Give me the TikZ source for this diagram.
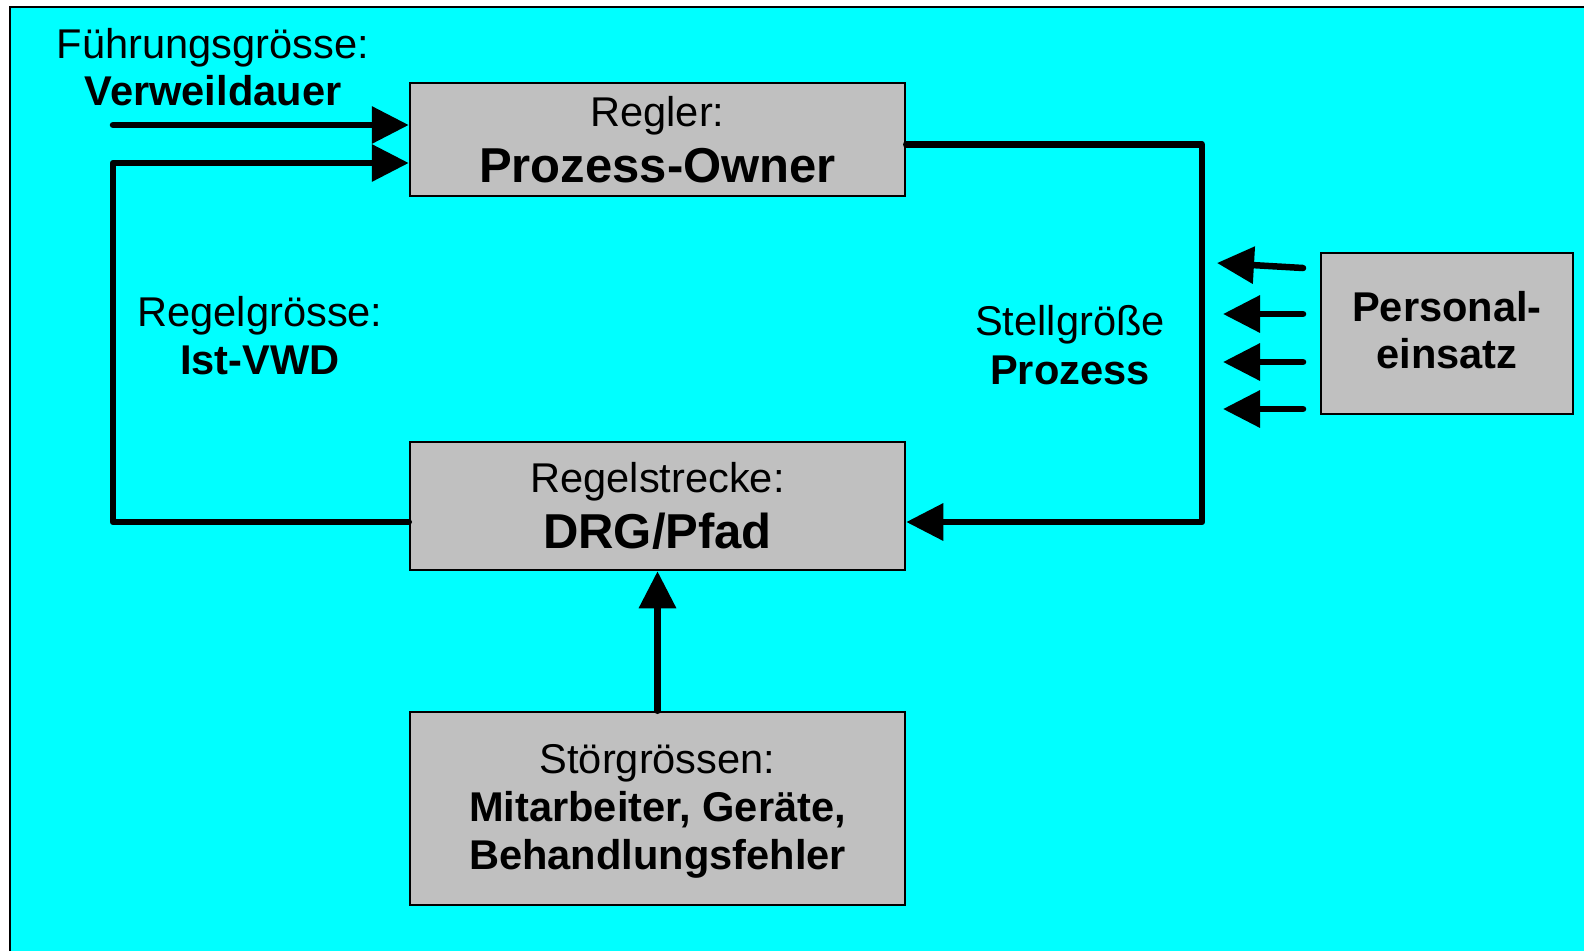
\documentclass[tikz,border=0pt]{standalone}
\usepackage{fontspec}
\setmainfont{Liberation Sans}
\usetikzlibrary{arrows.meta}
\definecolor{bgcyan}{HTML}{00FFFF}
\definecolor{boxgray}{HTML}{C0C0C0}
\begin{document}
\begin{tikzpicture}[x=1pt,y=-1pt,
 blk/.style={draw=black, line width=2.5pt, fill=boxgray, inner sep=0pt},
 conn/.style={line width=6.5pt, line cap=round, line join=round, -{Triangle[length=37pt,width=36pt]}},
 reg/.style={font=\fontsize{41.6}{48}\selectfont, anchor=base, inner sep=0pt},
 bld/.style={font=\fontsize{41.6}{48}\selectfont\bfseries, anchor=base, inner sep=0pt},
 big/.style={font=\fontsize{49}{56}\selectfont\bfseries, anchor=base, inner sep=0pt}]
\useasboundingbox (0,0) rectangle (1584,951);
\fill[white] (0,0) rectangle (1584,951);
\fill[bgcyan] (10,7) rectangle (1584,951);
\draw[line width=2.5pt] (10,951) -- (10,7) -- (1584,7);
% boxes
\node[blk, minimum width=495pt, minimum height=113pt] (regler) at (657.5,139.5) {};
\node[blk, minimum width=495pt, minimum height=128pt] (strecke) at (657.5,506) {};
\node[blk, minimum width=495pt, minimum height=193pt] (stoer) at (657.5,808.5) {};
\node[blk, minimum width=252pt, minimum height=161pt] (personal) at (1447,333.5) {};
% coordinates
\coordinate (fIn) at (113,125);
\coordinate (fbT) at (113,163);
\coordinate (fbL) at (113,522);
\coordinate (sR) at (1202,144.5);
\coordinate (sB) at (1202,522);
\coordinate (t1) at (1303,268); \coordinate (h1) at (1217,263);
\coordinate (t2) at (1303,314); \coordinate (h2) at (1223,314);
\coordinate (t3) at (1303,362); \coordinate (h3) at (1223,362);
\coordinate (t4) at (1303,409); \coordinate (h4) at (1223,409);
% connectors
\draw[conn] (fIn) -- (fIn -| regler.west);
\draw[conn] (strecke.west |- fbL) -- (fbL) -- (fbT) -- (fbT -| regler.west);
\draw[conn] (regler.east |- sR) -- (sR) -- (sB) -- (sB -| strecke.east);
\draw[conn] (stoer.north) -- (strecke.south);
\draw[conn] (t1) -- (h1);
\draw[conn] (t2) -- (h2);
\draw[conn] (t3) -- (h3);
\draw[conn] (t4) -- (h4);
% texts
\node[reg] (fg) at (213,58) {Führungsgrösse:};
\node[bld] (vw) at (213,105) {Verweildauer};
\node[reg] (rl) at (657.5,126) {Regler:};
\node[big] (po) at (657.5,182) {Prozess-Owner};
\node[reg] (rg) at (260,326) {Regelgrösse:};
\node[bld] (iv) at (260,374) {Ist-VWD};
\node[reg] (sg) at (1070,335) {Stellgröße};
\node[bld] (pz) at (1070,384) {Prozess};
\node[bld] (pe1) at (1447,321) {Personal-};
\node[bld] (pe2) at (1447,368) {einsatz};
\node[reg] (rs) at (657.5,492) {Regelstrecke:};
\node[big] (drg) at (657.5,548) {DRG/Pfad};
\node[reg] (sto) at (657.5,773) {Störgrössen:};
\node[bld] (ma) at (657.5,821) {Mitarbeiter, Geräte,};
\node[bld] (bf) at (657.5,869) {Behandlungsfehler};
\end{tikzpicture}
\end{document}
